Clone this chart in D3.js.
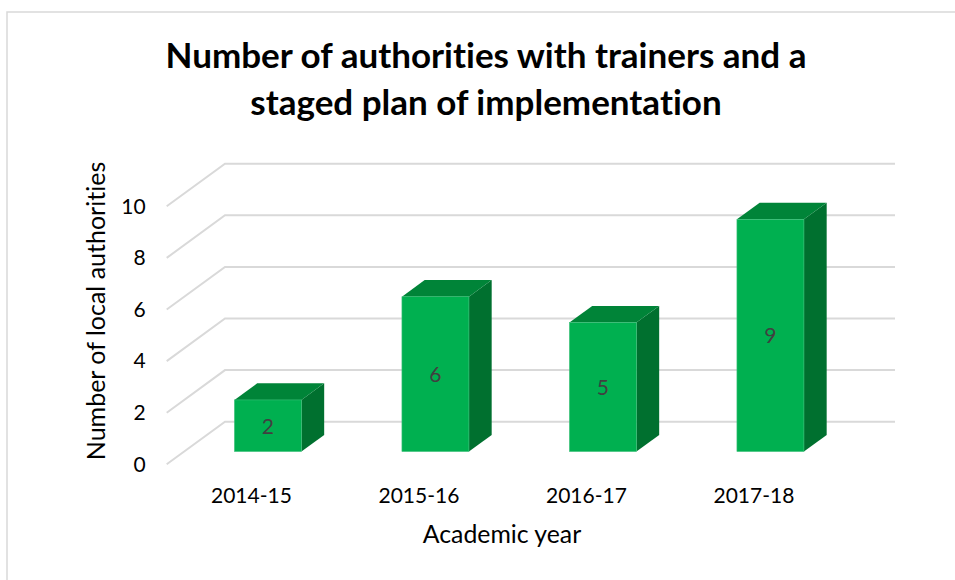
<!DOCTYPE html>
<html>
<head>
<meta charset="utf-8">
<script src="https://cdn.jsdelivr.net/npm/d3@7"></script>
<style>
html, body { margin: 0; padding: 0; background: #fff; }
svg { display: block; }
text { font-family: Lato, sans-serif; font-variant-ligatures: none; }
</style>
</head>
<body>
<div id="chart"></div>
<script>
var years = ["2014-15", "2015-16", "2016-17", "2017-18"];
var counts = [2, 6, 5, 9];
var yTicks = [0, 2, 4, 6, 8, 10];
var titleLines = ["Number of authorities with trainers and a", "staged plan of implementation"];

var width = 955;
var height = 580;

// floor of the 3d box, front edge and how far the back wall is shifted
var depthX = 58.3;
var depthY = 42.6;
var barFront = 0.30;
var barBack = 0.69;

var svg = d3.select("#chart").append("svg")
    .attr("width", width)
    .attr("height", height);

// chart frame, only left and top show in the picture
svg.append("path")
    .attr("d", d3.line()([[7, 580], [7, 12], [955, 12]]))
    .attr("fill", "none")
    .attr("stroke", "#D9D9D9")
    .attr("stroke-width", 1.5);

var x = d3.scaleBand().domain(years).range([166.7, 836.7]).paddingInner(0.6).paddingOuter(0.3);
var y = d3.scaleLinear().domain([0, 10]).range([464.3, 206.3]);

svg.selectAll("text.title")
    .data(titleLines)
    .enter().append("text")
    .attr("class", "title")
    .attr("x", 486)
    .attr("y", function (d, i) { return 68 + i * 47; })
    .attr("text-anchor", "middle")
    .attr("font-size", 35)
    .attr("font-weight", 700)
    .attr("fill", "#000")
    .text(function (d) { return d; });

// gridlines, side wall then back wall
var grid = svg.append("g").attr("class", "grid");
grid.selectAll("path")
    .data(yTicks)
    .enter().append("path")
    .attr("d", function (d) {
        return d3.line()([
            [x.range()[0], y(d)],
            [x.range()[0] + depthX, y(d) - depthY],
            [x.range()[1] + depthX, y(d) - depthY]
        ]);
    })
    .attr("fill", "none")
    .attr("stroke", "#D9D9D9")
    .attr("stroke-width", 2);

// axes
var yAxis = svg.append("g")
    .attr("transform", "translate(166.7,0)")
    .call(d3.axisLeft(y).tickValues(yTicks).tickSize(0).tickPadding(21));
var xAxis = svg.append("g")
    .attr("transform", "translate(1,464.3)")
    .call(d3.axisBottom(x).tickSize(0).tickPadding(24));
yAxis.select(".domain").remove();
xAxis.select(".domain").remove();
yAxis.selectAll("text").attr("font-size", 21).attr("font-family", "Lato").attr("fill", "#000");
xAxis.selectAll("text").attr("font-size", 21).attr("font-family", "Lato").attr("fill", "#000");

// axis titles
svg.append("text")
    .attr("transform", "translate(105,311) rotate(-90)")
    .attr("text-anchor", "middle")
    .attr("font-size", 25)
    .attr("fill", "#000")
    .text("Number of local authorities");
svg.append("text")
    .attr("x", 502)
    .attr("y", 543)
    .attr("text-anchor", "middle")
    .attr("font-size", 24.8)
    .attr("fill", "#000")
    .text("Academic year");

// bars
var bars = svg.append("g").selectAll("g")
    .data(counts)
    .enter().append("g");

var fx = function (i) { return x(years[i]) + depthX * barFront; };
var bx = function (i) { return x(years[i]) + depthX * barBack; };
var fy = function (v) { return y(v) - depthY * barFront; };
var by = function (v) { return y(v) - depthY * barBack; };

bars.append("path") // side
    .attr("fill", "#00702F")
    .attr("d", function (d, i) {
        var r = x.bandwidth();
        return d3.line()([
            [fx(i) + r, fy(0)], [bx(i) + r, by(0)],
            [bx(i) + r, by(d)], [fx(i) + r, fy(d)]
        ]) + "Z";
    });
bars.append("path") // top
    .attr("fill", "#008438")
    .attr("d", function (d, i) {
        var r = x.bandwidth();
        return d3.line()([
            [fx(i), fy(d)], [bx(i), by(d)],
            [bx(i) + r, by(d)], [fx(i) + r, fy(d)]
        ]) + "Z";
    });
bars.append("rect") // front
    .attr("fill", "#00B050")
    .attr("stroke", "#3DC07A")
    .attr("stroke-width", 0.6)
    .attr("x", function (d, i) { return fx(i); })
    .attr("y", function (d) { return fy(d); })
    .attr("width", x.bandwidth())
    .attr("height", function (d) { return fy(0) - fy(d); });

bars.append("text")
    .attr("x", function (d, i) { return fx(i) + x.bandwidth() / 2; })
    .attr("y", function (d) { return (fy(0) + fy(d)) / 2 + 8; })
    .attr("text-anchor", "middle")
    .attr("font-size", 21)
    .attr("fill", "#404040")
    .text(function (d) { return d; });
</script>
</body>
</html>
